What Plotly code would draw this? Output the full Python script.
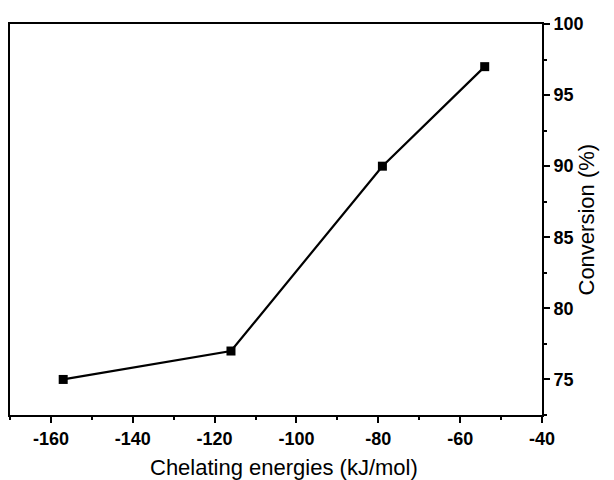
import plotly.graph_objects as go

energies = [-157, -116, -79, -54]
conversion = [75, 77, 90, 97]
x_tickvals = [-160, -140, -120, -100, -80, -60, -40]
x_ticktext = ["-160", "-140", "-120", "-100", "-80", "-60", "-40"]
y_tickvals = [75, 80, 85, 90, 95, 100]

fig = go.Figure()
fig.add_trace(go.Scatter(
    x=energies, y=conversion, mode="lines+markers",
    line=dict(color="black", width=2.2),
    marker=dict(symbol="square", size=9, color="black"),
    showlegend=False,
))

font = "Liberation Sans, Arial, sans-serif"
fig.update_layout(
    width=606, height=472,
    margin=dict(l=2, r=72, t=16, b=65),
    plot_bgcolor="white", paper_bgcolor="white",
    font=dict(family=font, color="black"),
    xaxis=dict(
        range=[-170, -40], tickvals=x_tickvals, ticktext=x_ticktext,
        showline=True, linecolor="black", linewidth=2, mirror=True,
        ticks="outside", ticklen=6, tickwidth=2, tickcolor="black",
        minor=dict(ticks="outside", ticklen=3, tickwidth=2, tickcolor="black", dtick=10, tick0=-170),
        showgrid=False, zeroline=False, automargin=False,
        tickfont=dict(size=18, family=font, weight="bold"),
        ticklabelstandoff=0,
    ),
    yaxis=dict(
        range=[72.5, 100], side="right", tickvals=y_tickvals,
        showline=True, linecolor="black", linewidth=2, mirror=True,
        ticks="outside", ticklen=6, tickwidth=2, tickcolor="black",
        minor=dict(ticks="outside", ticklen=3, tickwidth=2, tickcolor="black", dtick=2.5, tick0=75),
        showgrid=False, zeroline=False, automargin=False,
        tickfont=dict(size=18, family=font, weight="bold"),
        ticklabelstandoff=0,
    ),
    annotations=[
        dict(text="Chelating energies (kJ/mol)", xref="paper", yref="paper",
             x=0.515, y=-0.1355, xanchor="center", yanchor="middle", showarrow=False,
             font=dict(size=22, family=font)),
        dict(text="Conversion (%)", xref="paper", yref="paper",
             x=1.0, xshift=44, y=0.5, xanchor="center", yanchor="middle", showarrow=False,
             textangle=-90, font=dict(size=22, family=font)),
    ],
)

fig.write_html("out.html")
